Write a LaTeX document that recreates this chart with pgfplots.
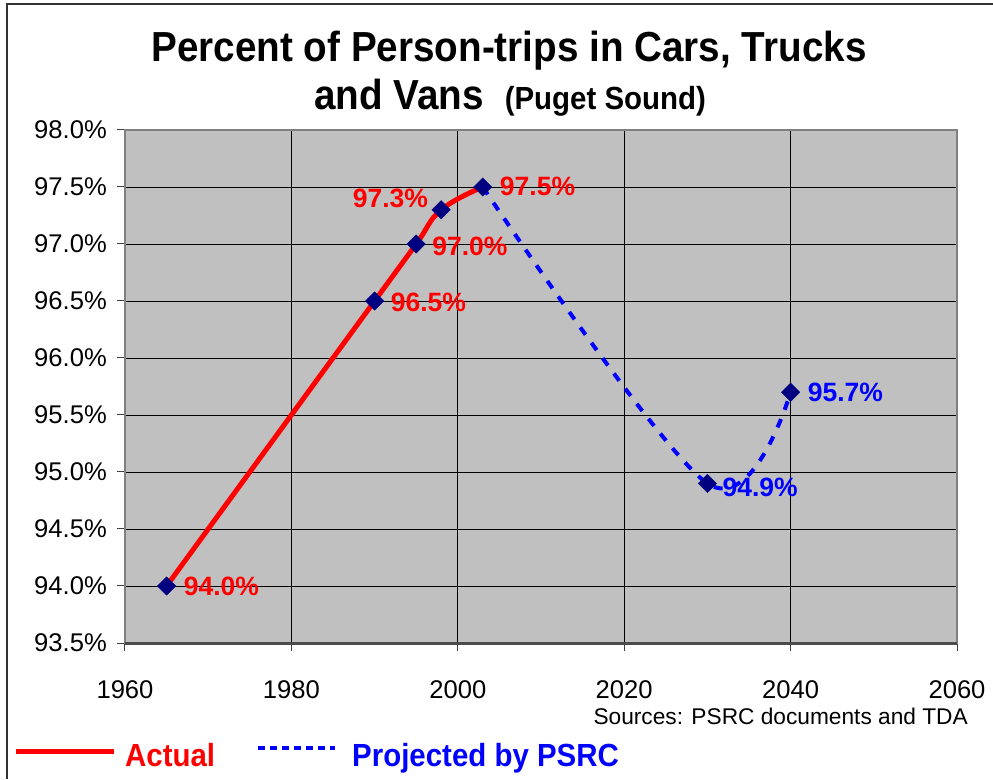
\documentclass[border=0pt]{standalone}
\usepackage{fontspec}
\setmainfont{Liberation Sans}
\newfontfamily\condfont{Liberation Sans}[FakeStretch=0.92]
\usepackage{pgfplots}
\pgfplotsset{compat=1.18}
\definecolor{plotgray}{RGB}{192,192,192}
\definecolor{navymark}{RGB}{0,0,128}
\definecolor{xred}{RGB}{255,0,0}
\definecolor{xblue}{RGB}{0,0,255}
\begin{document}
\begin{tikzpicture}
\useasboundingbox (-125pt,-136pt) rectangle (868pt,643pt);
\fill[white] (-125pt,-136pt) rectangle (868pt,643pt);
\draw[line width=2pt, black!80] (-118pt,-136pt) -- (-118pt,638.5pt) -- (868pt,638.5pt);
\begin{axis}[
  at={(0pt,0pt)}, anchor=south west,
  scale only axis, width=832pt, height=513pt,
  xmin=1960, xmax=2060, ymin=93.5, ymax=98,
  xtick={1960,1980,...,2060},
  ytick={93.5,94,...,98},
  tick pos=left,
  /pgf/number format/assume math mode=true,
  /pgf/number format/1000 sep={},
  yticklabel={\pgfmathprintnumber[fixed,fixed zerofill,precision=1]{\tick}\%},
  ticklabel style={font=\fontsize{25.6}{28}\selectfont, inner sep=0pt},
  yticklabel style={anchor=east, xshift=-10pt},
  xticklabel style={anchor=north, yshift=-29pt},
  tick align=outside,
  major tick length=8pt,
  tick style={black!75, line width=1pt},
  grid=major,
  major grid style={black, line width=0.9pt},
  axis background/.style={fill=plotgray},
  axis line style={black!50, line width=1.5pt},
  clip=false,
]
\addplot[xred, line width=5pt, smooth, tension=0.7] coordinates {
  (1965,94.0) (1990,96.5) (1995,97.0) (1998,97.3) (2003,97.5)
};
\addplot[xblue, line width=4pt, smooth, tension=0.55, dash pattern=on 9pt off 10pt] coordinates {
  (2003,97.5) (2030,94.9) (2040,95.7)
};
\addplot[only marks, mark=square*, mark size=6.5pt, mark options={rotate=45, fill=navymark, draw=navymark}] coordinates {
  (1965,94.0) (1990,96.5) (1995,97.0) (1998,97.3) (2003,97.5) (2030,94.9) (2040,95.7)
};
\draw[black!70, line width=3pt] (rel axis cs:0,0) -- (rel axis cs:1,0);
\begin{scope}[every node/.style={font=\fontsize{26.5}{28}\selectfont\bfseries, inner sep=0pt}]
\node[xred, anchor=west, xshift=17pt] at (axis cs:1965,94.0) {94.0\%};
\node[xred, anchor=west, xshift=16pt, yshift=-1pt] at (axis cs:1990,96.5) {96.5\%};
\node[xred, anchor=west, xshift=16pt, yshift=-2pt] at (axis cs:1995,97.0) {97.0\%};
\node[xred, anchor=east, xshift=-13pt, yshift=11pt] at (axis cs:1998,97.3) {97.3\%};
\node[xred, anchor=west, xshift=17pt, yshift=1pt] at (axis cs:2003,97.5) {97.5\%};
\node[xblue, anchor=west, xshift=15pt, yshift=-4pt] at (axis cs:2030,94.9) {94.9\%};
\node[xblue, anchor=west, xshift=17pt] at (axis cs:2040,95.7) {95.7\%};
\end{scope}
\end{axis}
\node[anchor=base, font=\condfont\bfseries\fontsize{42}{48}\selectfont, inner sep=0pt] at (384pt,581pt) {Percent of Person-trips in Cars, Trucks};
\node[anchor=base, font=\condfont\bfseries, inner sep=0pt] at (385pt,533pt) {\fontsize{42}{48}\selectfont and Vans\hspace{0.5em}\fontsize{32}{36}\selectfont(Puget Sound)};
\node[anchor=base east, font=\fontsize{22.7}{25}\selectfont, inner sep=0pt] at (843pt,-81pt) {Sources: PSRC documents and TDA};
\draw[xred, line width=5pt] (-109pt,-108pt) -- (-11pt,-108pt);
\node[anchor=base west, xred, font=\condfont\bfseries\fontsize{32}{36}\selectfont, inner sep=0pt] at (0pt,-123pt) {Actual};
\draw[xblue, line width=3.5pt, dash pattern=on 7pt off 5pt] (133pt,-105pt) -- (210pt,-105pt);
\node[anchor=base west, xblue, font=\condfont\bfseries\fontsize{32}{36}\selectfont, inner sep=0pt] at (227pt,-123pt) {Projected by PSRC};
\end{tikzpicture}
\end{document}
